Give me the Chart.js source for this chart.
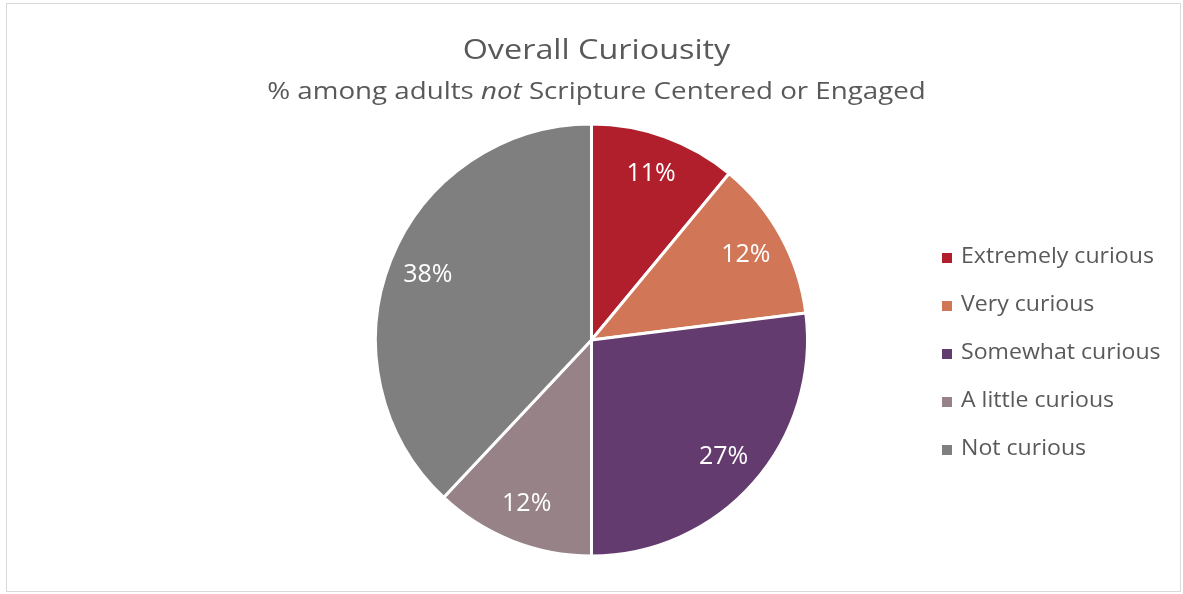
<!DOCTYPE html>
<html>
<head>
<meta charset="utf-8">
<script src="https://cdn.jsdelivr.net/npm/chart.js@4"></script>
<style>
  html, body { margin: 0; padding: 0; background: #fff; }
  body { width: 1183px; height: 594px; position: relative; font-family: "Open Sans", Lato, sans-serif; }
  #frame {
    position: absolute; left: 6px; top: 3px; width: 1173px; height: 587px;
    border: 1px solid #d9d9d9; box-sizing: content-box;
  }
  #chart { position: absolute; left: 0; top: 0; }
  .title {
    position: absolute; left: 3px; width: 100%; text-align: center; color: #595959;
    transform: scaleX(1.155); transform-origin: 50% 50%;
  }
  #title { top: 25px; font-size: 28px; }
  #subtitle { top: 69px; font-size: 24px; }
  #legend {
    position: absolute; left: 935px; top: 237px; color: #595959; font-size: 21px;
  }
  .item { height: 48px; display: flex; align-items: flex-start; }
  .swatch { width: 10px; height: 10px; margin: 12px 9px 0 0; flex: none; }
  .name { display: inline-block; transform: scaleX(1.1); transform-origin: 0 50%; }
</style>
</head>
<body>
<div id="frame">
  <canvas id="chart" width="1173" height="587"></canvas>
  <div class="title" id="title">Overall Curiousity</div>
  <div class="title" id="subtitle">% among adults <i>not</i> Scripture Centered or Engaged</div>
  <div id="legend"></div>
</div>
<script>
const categories = ['Extremely curious', 'Very curious', 'Somewhat curious', 'A little curious', 'Not curious'];
const percentages = [11, 12, 27, 12, 38];
const sliceColors = ['#b01f2b', '#d17757', '#643b6e', '#968287', '#7f7f7f'];

// percentage labels inside each slice
const sliceLabels = {
  id: 'sliceLabels',
  afterDatasetsDraw(chart) {
    const ctx = chart.ctx;
    const meta = chart.getDatasetMeta(0);
    ctx.save();
    ctx.fillStyle = '#ffffff';
    ctx.font = '25px "Open Sans", Lato, sans-serif';
    ctx.textAlign = 'center';
    ctx.textBaseline = 'middle';
    meta.data.forEach(function(arc, i) {
      const p = arc.getProps(['x', 'y', 'startAngle', 'endAngle', 'outerRadius'], true);
      const mid = (p.startAngle + p.endAngle) / 2;
      const r = p.outerRadius * 0.815;
      ctx.fillText(percentages[i] + '%', p.x + Math.cos(mid) * r, p.y + Math.sin(mid) * r);
    });
    ctx.restore();
  }
};

let legend = document.getElementById('legend');
categories.forEach(function(name, i) {
  let item = document.createElement('div');
  item.className = 'item';
  let sw = document.createElement('span');
  sw.className = 'swatch';
  sw.style.background = sliceColors[i];
  let txt = document.createElement('span');
  txt.className = 'name';
  txt.textContent = name;
  item.appendChild(sw);
  item.appendChild(txt);
  legend.appendChild(item);
});

new Chart(document.getElementById('chart'), {
  type: 'pie',
  data: {
    labels: categories,
    datasets: [{
      data: percentages,
      backgroundColor: sliceColors,
      borderColor: '#ffffff',
      borderWidth: 3
    }]
  },
  options: {
    responsive: false,
    animation: false,
    layout: { padding: { left: 367, right: 371, top: 117, bottom: 32 } },
    plugins: {
      legend: { display: false },
      tooltip: { enabled: false }
    }
  },
  plugins: [sliceLabels]
});
</script>
</body>
</html>
